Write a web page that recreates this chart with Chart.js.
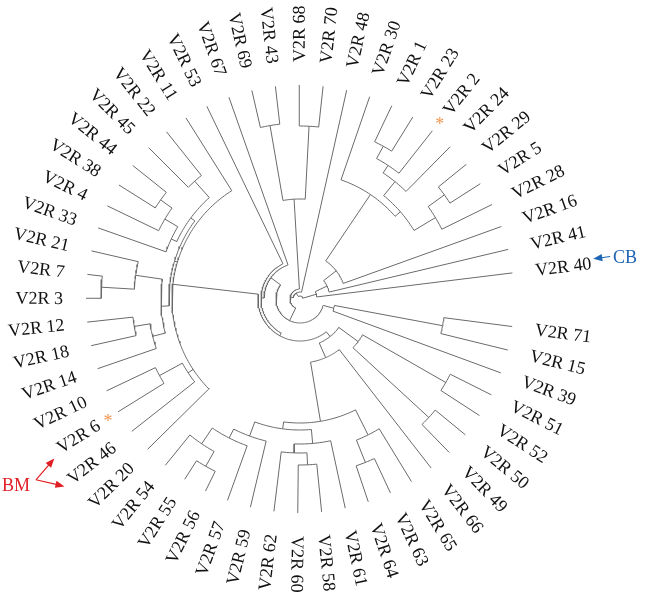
<!DOCTYPE html>
<html lang="en">
<head>
  <meta charset="UTF-8">
  <title>V2R circular tree</title>
  <style>
    html, body { margin: 0; padding: 0; background: #fff; }
    #tree { display: block; }
  </style>
  <script src="https://cdn.jsdelivr.net/npm/chart.js"></script>
</head>
<body>
<canvas id="tree" width="649" height="599"></canvas>
<script>
  // leaves, counter-clockwise starting at V2R 40 (right side)
  const leaves = [
    'V2R 40', 'V2R 41', 'V2R 16', 'V2R 28', 'V2R 5', 'V2R 29', 'V2R 24', 'V2R 2', 'V2R 23', 'V2R 1',
    'V2R 30', 'V2R 48', 'V2R 70', 'V2R 68', 'V2R 43', 'V2R 69', 'V2R 67', 'V2R 53', 'V2R 11', 'V2R 22',
    'V2R 45', 'V2R 44', 'V2R 38', 'V2R 4', 'V2R 33', 'V2R 21', 'V2R 7', 'V2R 3', 'V2R 12', 'V2R 18',
    'V2R 14', 'V2R 10', 'V2R 6', 'V2R 46', 'V2R 20', 'V2R 54', 'V2R 55', 'V2R 56', 'V2R 57', 'V2R 59',
    'V2R 62', 'V2R 60', 'V2R 58', 'V2R 61', 'V2R 64', 'V2R 63', 'V2R 65', 'V2R 66', 'V2R 49', 'V2R 50',
    'V2R 52', 'V2R 51', 'V2R 39', 'V2R 15', 'V2R 71'
  ];
  const firstAngle = 7;     // degrees, V2R 40
  const angleStep = 6.4;    // degrees between neighbouring leaves
  const tipDepth = 214;     // all tips end on the same circle

  // clades: [node depth, child, child, ...]
  const cladeS = [158, 'V2R 28', [178, 'V2R 5', 'V2R 29']];
  const cladeL = [151, 'V2R 24', [160, 'V2R 2', [174, 'V2R 23', 'V2R 1']]];
  const cladeUR = [126, [133, cladeS, cladeL], 'V2R 30'];
  const cladeRight = [17, 'V2R 40', [30, 'V2R 41', [46, 'V2R 16', cladeUR]]];
  const cladeTop = [100, [173, 'V2R 70', 'V2R 68'], [176, 'V2R 43', 'V2R 69']];
  const cladeLeft = [128, 'V2R 11',
    [131,
      [136, [158, 'V2R 22', 'V2R 45'], [142, [157, [171, 'V2R 44', 'V2R 38'], 'V2R 4'], 'V2R 33']],
      [139, [166, 'V2R 21', [199, 'V2R 7', 'V2R 3']], [152, [168, 'V2R 12', 'V2R 18'], 'V2R 14']]],
    [134, [160, 'V2R 10', 'V2R 6'], 'V2R 46'],
    'V2R 20'];
  const cladeBottomLeft = [146, [156, [175, 'V2R 54', [192, 'V2R 55', 'V2R 56']], 'V2R 57'], 'V2R 59'];
  const cladeBottom = [145, [154, 'V2R 62', [166, 'V2R 60', 'V2R 58']], 'V2R 61'];
  const cladeLowRight = [48,
    [64, [124, [131, cladeBottomLeft, cladeBottom], [152, [176, 'V2R 64', 'V2R 63'], 'V2R 65']], 'V2R 66'],
    [72, [175, 'V2R 49', 'V2R 50'], [168, 'V2R 52', 'V2R 51']]];
  const cladeOuter = [36, 'V2R 67', [39, 'V2R 53', [42, cladeLeft, cladeLowRight]]];
  const clade71 = [35, 'V2R 39', [145, 'V2R 15', 'V2R 71']];
  const treeRoot = [3, cladeRight, [7, 'V2R 48', [10, cladeTop, [24, cladeOuter, clade71]]]];

  // marked leaves
  const starLeaves = ['V2R 2', 'V2R 6'];
  const cbLeaf = 'V2R 40';
  const bmLeaves = ['V2R 6', 'V2R 46'];

  const lineColor = '#6a6a6a';
  const labelFont = '18px "Liberation Serif", "Times New Roman", serif';
  const labelDepth = 237;

  const rad = d => d * Math.PI / 180;
  const leafAngle = name => firstAngle + leaves.indexOf(name) * angleStep;
  const polar = (r, a) => ({ x: r * Math.cos(rad(a)), y: r * Math.sin(rad(a)) });

  // walk the tree, collecting branch polylines separated by gaps
  const branchPoints = [];
  function gap() { branchPoints.push({ x: null, y: null }); }
  function walk(node) {
    if (typeof node === 'string') return { angle: leafAngle(node), depth: tipDepth };
    const depth = node[0];
    const kids = node.slice(1).map(walk);
    kids.forEach(k => {
      branchPoints.push(polar(depth, k.angle), polar(k.depth, k.angle));
      gap();
    });
    const a0 = kids[0].angle, a1 = kids[kids.length - 1].angle;
    for (let a = a0; a < a1; a += 1) branchPoints.push(polar(depth, a));
    branchPoints.push(polar(depth, a1));
    gap();
    return { angle: (a0 + a1) / 2, depth: depth };
  }
  walk(treeRoot);

  function arrow(ctx, x0, y0, x1, y1, color) {
    const ang = Math.atan2(y1 - y0, x1 - x0);
    const head = 9, wing = 3.6;
    ctx.strokeStyle = color;
    ctx.fillStyle = color;
    ctx.lineWidth = 1.2;
    ctx.beginPath();
    ctx.moveTo(x0, y0);
    ctx.lineTo(x1 - head * 0.7 * Math.cos(ang), y1 - head * 0.7 * Math.sin(ang));
    ctx.stroke();
    ctx.beginPath();
    ctx.moveTo(x1, y1);
    ctx.lineTo(x1 - head * Math.cos(ang) + wing * Math.sin(ang), y1 - head * Math.sin(ang) - wing * Math.cos(ang));
    ctx.lineTo(x1 - head * Math.cos(ang) - wing * Math.sin(ang), y1 - head * Math.sin(ang) + wing * Math.cos(ang));
    ctx.closePath();
    ctx.fill();
  }

  const leafLabels = {
    id: 'leafLabels',
    afterDatasetsDraw(chart) {
      const ctx = chart.ctx;
      const xs = chart.scales.x, ys = chart.scales.y;
      const px = (r, a) => { const p = polar(r, a); return [xs.getPixelForValue(p.x), ys.getPixelForValue(p.y)]; };
      ctx.save();
      ctx.font = labelFont;
      ctx.fillStyle = '#111';
      ctx.textBaseline = 'middle';
      leaves.forEach(name => {
        const a = leafAngle(name);
        const flip = a > 91 && a < 268;
        const [x, y] = px(labelDepth, a);
        ctx.save();
        ctx.translate(x, y);
        ctx.rotate(-rad(a) + (flip ? Math.PI : 0));
        ctx.textAlign = flip ? 'right' : 'left';
        ctx.fillText(name, 0, 1);
        ctx.restore();
      });

      // orange asterisks
      ctx.font = '18px "Liberation Serif", serif';
      ctx.fillStyle = 'rgb(240,150,80)';
      ctx.textAlign = 'center';
      ctx.textBaseline = 'alphabetic';
      starLeaves.forEach(name => {
        const [x, y] = px(226, leafAngle(name));
        ctx.fillText('*', x, y + 9);
      });

      // CB arrow
      const cbA = leafAngle(cbLeaf) + 0.8;
      const [cx0, cy0] = px(313, cbA);
      const [cx1, cy1] = px(296, cbA);
      arrow(ctx, cx0, cy0, cx1, cy1, 'rgb(30,100,180)');
      ctx.font = labelFont;
      ctx.fillStyle = 'rgb(30,100,180)';
      ctx.textAlign = 'left';
      ctx.textBaseline = 'middle';
      ctx.fillText('CB', cx0 + 3, cy0 + 2);

      // BM arrows
      const midA = (leafAngle(bmLeaves[0]) + leafAngle(bmLeaves[1])) / 2 - 0.6;
      const [bx, by] = px(320, midA);
      const [t0x, t0y] = px(293, leafAngle(bmLeaves[0]) + 1.2);
      const [t1x, t1y] = px(301, leafAngle(bmLeaves[1]) + 0.3);
      arrow(ctx, bx, by, t0x, t0y, 'rgb(225,30,35)');
      arrow(ctx, bx, by, t1x, t1y, 'rgb(225,30,35)');
      ctx.font = labelFont;
      ctx.fillStyle = 'rgb(225,30,35)';
      ctx.textAlign = 'right';
      ctx.textBaseline = 'middle';
      ctx.fillText('BM', bx - 6, by + 6);
      ctx.restore();
    }
  };

  new Chart(document.getElementById('tree').getContext('2d'), {
    type: 'scatter',
    data: {
      datasets: [{
        label: 'branches',
        data: branchPoints,
        showLine: true,
        spanGaps: false,
        borderColor: lineColor,
        borderWidth: 1,
        pointRadius: 0,
        pointHoverRadius: 0,
        tension: 0
      }]
    },
    options: {
      responsive: false,
      animation: false,
      events: [],
      layout: { padding: 0 },
      plugins: { legend: { display: false }, tooltip: { enabled: false } },
      scales: {
        x: { type: 'linear', min: -300, max: 349, display: false },
        y: { type: 'linear', min: -300, max: 299, display: false }
      }
    },
    plugins: [leafLabels]
  });
</script>
</body>
</html>
